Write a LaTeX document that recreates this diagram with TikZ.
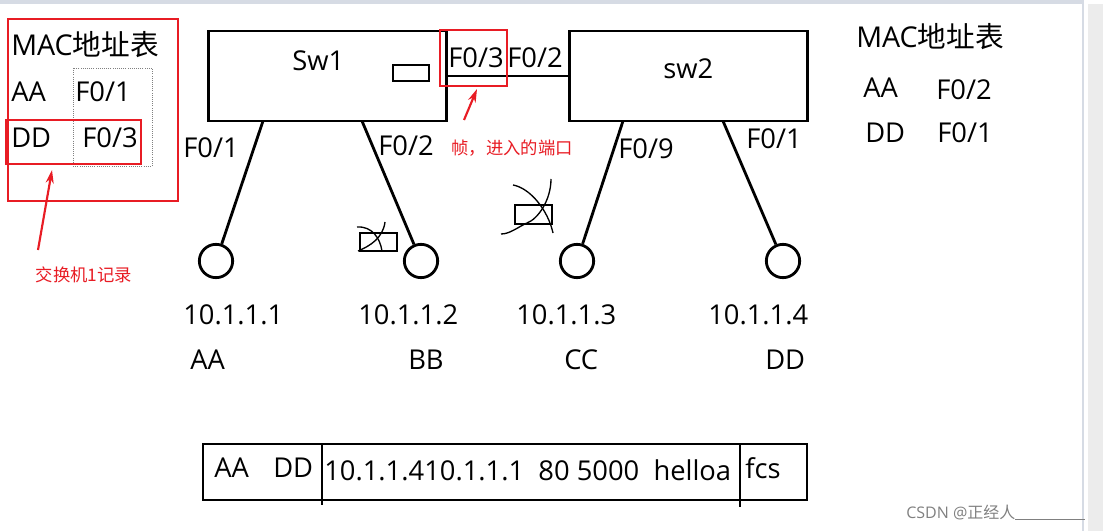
\documentclass[tikz,border=0pt]{standalone}
\usepackage{fontspec}
\setmainfont{Open Sans}
\newfontfamily\cjk{Noto Sans CJK SC}
\usetikzlibrary{positioning,calc,arrows,arrows.meta}
\definecolor{mark}{RGB}{232,28,36}
\definecolor{chrome}{RGB}{214,219,228}

\begin{document}
\begin{tikzpicture}[>=stealth, x=0.75pt, y=-0.75pt]
    \tikzstyle{switch} = [rectangle, draw, line width=2.1pt, minimum width=179pt, minimum height=67.5pt, inner sep=0pt]
    \tikzstyle{host} = [circle, draw, line width=2.1pt, minimum size=25pt, inner sep=0pt]
    \tikzstyle{big} = [font=\fontsize{20.5}{24}\selectfont, inner sep=0pt, anchor=base west]
    \tikzstyle{head} = [font=\fontsize{21.5}{25}\selectfont, inner sep=0pt, anchor=base west]
    \tikzstyle{note} = [font=\cjk\fontsize{13}{15}\selectfont, text=mark, inner sep=0pt]
    \tikzstyle{hl} = [draw=mark, line width=1.4pt]
    \tikzstyle{pointer} = [draw=mark, line width=1.6pt, -{Stealth[length=10pt,width=6pt]}]
    \tikzstyle{wire} = [line width=2.1pt]
    \tikzstyle{scribble} = [line width=1pt]
    \useasboundingbox (0,0) rectangle (1103,531);
    % window chrome
    \fill[chrome] (0,0) rectangle (1084,4);
    \draw[chrome, line width=1pt] (1083,4) -- (1083,531);
    \fill[gray!15] (1088,4) rectangle (1103,531);
    % switches
    \node[switch] (sw1) at (327.5,76) {};
    \node[switch] (sw2) at (688.5,76) {};
    \node[big] (sw1lbl) at (292,71) {Sw1};
    \node[big] (sw2lbl) at (663,79) {sw2};
    \draw[line width=1.6pt] (393,65) rectangle (429,81);
    \draw[wire] (sw1) -- (sw2);
    \node[big] (p13) at (448,68) {F0/3};
    \node[big] (p22) at (507,68) {F0/2};
    % hosts
    \node[host] (hA) at (216,261) {};
    \node[host] (hB) at (421,261) {};
    \node[host] (hC) at (577,261) {};
    \node[host] (hD) at (783,261) {};
    \coordinate (s1a) at (263,121);
    \coordinate (s1b) at (362,121);
    \coordinate (s2a) at (623,121);
    \coordinate (s2b) at (723,121);
    \draw[wire] (s1a) -- (hA);
    \draw[wire] (s1b) -- (hB);
    \draw[wire] (s2a) -- (hC);
    \draw[wire] (s2b) -- (hD);
    \node[big] (p11) at (183,158) {F0/1};
    \node[big] (p12) at (378,156) {F0/2};
    \node[big] (p29) at (618,159) {F0/9};
    \node[big] (p21) at (746,149) {F0/1};
    \node[big] (ipA) at (183,324) {10.1.1.1};
    \node[big] (ipB) at (358,324) {10.1.1.2};
    \node[big] (ipC) at (516,324) {10.1.1.3};
    \node[big] (ipD) at (708,324) {10.1.1.4};
    \node[big] (nA) at (190,369) {AA};
    \node[big] (nB) at (408,369) {BB};
    \node[big] (nC) at (564,369) {CC};
    \node[big] (nD) at (765,369) {DD};
    % crossed out frames
    \draw[line width=1.6pt] (360,233) rectangle (397,251);
    \draw[scribble] (357,227) .. controls (372,226) and (380,238) .. (382,251);
    \draw[scribble] (385,222) .. controls (383,238) and (370,246) .. (358,251);
    \draw[line width=1.6pt] (515,205) rectangle (552,224);
    \draw[scribble] (513,185) .. controls (530,188) and (548,210) .. (553,233);
    \draw[scribble] (551,179) .. controls (551,200) and (538,219) .. (527,223) .. controls (518,227) and (510,234) .. (501,234);
    % MAC tables
    \node[head] (t1) at (11,56) {MAC{\cjk 地址表}};
    \node[big] (t1a) at (11,102) {AA};
    \node[big] (t1ap) at (75,102) {F0/1};
    \node[big] (t1d) at (11,148) {DD};
    \node[big] (t1dp) at (82,148) {F0/3};
    \draw[gray, densely dotted, line width=0.6pt] (73,68) rectangle (152,166);
    \node[head] (t2) at (856,48) {MAC{\cjk 地址表}};
    \node[big] (t2a) at (863,98) {AA};
    \node[big] (t2ap) at (936,100) {F0/2};
    \node[big] (t2d) at (865,143) {DD};
    \node[big] (t2dp) at (937,143) {F0/1};
    % red marks
    \draw[hl] (8,19) rectangle (178,201);
    \draw[hl] (6,120) rectangle (141,164);
    \draw[hl] (440,30) rectangle (507,86);
    \coordinate (a1s) at (38,250);
    \coordinate (a1e) at (52,170);
    \coordinate (a2s) at (464,120);
    \coordinate (a2e) at (477,89);
    \draw[pointer] (a1s) -- (a1e);
    \draw[pointer] (a2s) -- (a2e);
    \node[note] (n1) at (84,275) {交换机1记录};
    \node[note] (n2) at (512,148) {帧，进入的端口};
    % frame
    \draw[line width=2.1pt] (203,444) rectangle (807,500);
    \draw[line width=2.1pt] (322,444) -- (322,505);
    \draw[line width=2.1pt] (740,444) -- (740,507);
    \node[big] (fsrc) at (214,477) {AA};
    \node[big] (fdst) at (273,477) {DD};
    \node[big] (fdata) at (324,480) {10.1.1.410.1.1.1 \ 80 5000 \ helloa};
    \node[big] (ffcs) at (745,478) {fcs};
    % watermark
    \node[font=\fontsize{12}{14}\selectfont, text=gray, inner sep=0pt, anchor=base west] (wm) at (906,518) {CSDN @{\cjk 正经人}\rule[-1pt]{52pt}{0.6pt}};
\end{tikzpicture}
\end{document}
